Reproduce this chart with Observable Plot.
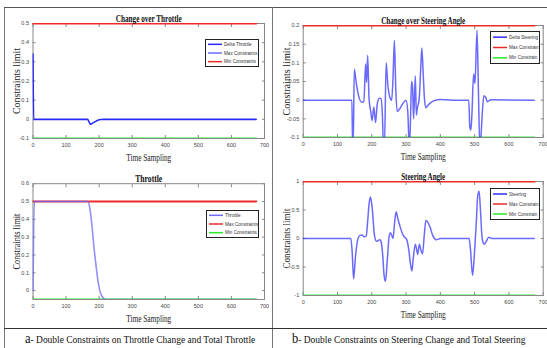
<!DOCTYPE html>
<html>
<head>
<meta charset="utf-8">
<script src="https://cdn.jsdelivr.net/npm/d3@7"></script>
<script src="https://cdn.jsdelivr.net/npm/@observablehq/plot@0.6"></script>
<style>
  html, body { margin: 0; padding: 0; background: #fff; }
  #fig { position: relative; width: 547px; height: 348px; background: #fff; overflow: hidden; }
  .hline { position: absolute; height: 0; border-top: 1.5px solid #555; }
  .vline { position: absolute; width: 0; border-left: 1.5px solid #777; }
  .caption { position: absolute; font-family: "Liberation Serif", serif; font-size: 11px; color: #111; white-space: nowrap; transform-origin: left center; }
  .caption .big { font-size: 14.5px; }
  svg g[aria-label="x-axis label"] text, svg g[aria-label="y-axis label"] text { font-family: "Liberation Serif", serif; font-size: 9.5px; fill: #222; }
  svg g[aria-label="x-axis tick label"] text, svg g[aria-label="y-axis tick label"] text { font-size: 5.5px; fill: #444; }
</style>
</head>
<body>
<div id="fig"></div>
<script>
// ---------- DATA ----------
const xTicks = [0, 100, 200, 300, 400, 500, 600, 700];
const limitT = [0, 675];

// Panel a (top): change over throttle
const dThrottleT = [0, 2, 165, 170, 174, 180, 188, 196, 204, 215, 675];
const dThrottleV = [0.34, 0, 0, -0.015, -0.026, -0.02, -0.012, -0.005, -0.001, 0, 0];
const dThrottleMax = [0.5, 0.5];
const dThrottleMin = [-0.1, -0.1];
const dThrottleTicks = [-0.1, 0, 0.1, 0.2, 0.3, 0.4, 0.5];

// Panel a (bottom): throttle
const throttleT = [0, 4, 166, 172, 178, 184, 190, 196, 202, 208, 214, 220, 675];
const throttleV = [0, 0.5, 0.5, 0.46, 0.37, 0.25, 0.15, 0.06, 0.0, -0.03, -0.045, -0.05, -0.05];
const throttleMax = [0.5, 0.5];
const throttleMin = [-0.05, -0.05];
const throttleTicks = [0, 0.1, 0.2, 0.3, 0.4, 0.5, 0.6];

// Panel b (top): change over steering angle
const dSteerT = [0, 142, 144, 146, 149, 155, 162, 170, 177, 182, 185, 188, 192, 197, 201, 206, 211, 216, 222, 227, 231, 234, 237, 242, 247, 252, 258, 262, 266, 270, 274, 280, 290, 300, 305, 308, 310, 313, 316, 319, 322, 327, 330, 333, 338, 343, 346, 350, 354, 358, 363, 370, 385, 400, 420, 440, 483, 486, 489, 492, 497, 501, 507, 511, 515, 519, 522, 527, 532, 537, 547, 674];
const dSteerV = [0, 0, -0.12, -0.12, 0.083, 0.045, 0.01, -0.005, -0.004, 0.097, 0.048, 0.12, 0.005, -0.03, -0.055, -0.018, -0.06, -0.01, 0.005, 0.004, -0.04, -0.12, -0.12, 0.1, 0.04, 0.01, 0.0, 0.06, 0.16, 0.03, -0.03, -0.025, -0.01, 0, -0.03, -0.1, -0.12, -0.05, 0.05, 0.035, -0.05, 0.065, -0.04, -0.02, 0.0, 0.09, 0.14, 0.07, 0.0, -0.02, -0.015, -0.008, 0, 0.002, 0.001, 0, 0, -0.072, -0.08, -0.04, 0.07, 0.045, 0.187, 0.03, -0.12, -0.09, -0.04, 0.012, 0.008, -0.004, 0.001, 0];
const dSteerMax = [0.2, 0.2];
const dSteerMin = [-0.1, -0.1];
const dSteerTicks = [-0.1, -0.05, 0, 0.05, 0.1, 0.15, 0.2];

// Panel b (bottom): steering angle
const steerT = [0, 139, 143, 147, 152, 158, 165, 172, 178, 184, 188, 192, 196, 201, 208, 214, 218, 223, 227, 232, 236, 240, 245, 250, 254, 258, 262, 267, 271, 276, 283, 292, 302, 308, 313, 317, 321, 327, 331, 334, 337, 339, 343, 348, 353, 358, 364, 370, 378, 388, 400, 484, 488, 494, 499, 505, 509, 513, 517, 522, 528, 534, 541, 550, 674];
const steerV = [0, 0, -0.25, -0.71, -0.35, -0.05, 0.05, 0.06, 0.03, 0.05, 0.3, 0.6, 0.73, 0.55, 0.05, -0.05, -0.04, -0.02, -0.05, -0.3, -0.65, -0.75, -0.4, 0.0, 0.1, 0.06, 0.0, 0.3, 0.47, 0.35, 0.2, 0.05, -0.02, -0.2, -0.45, -0.57, -0.35, -0.1, -0.2, -0.28, -0.15, -0.1, -0.2, -0.27, 0.05, 0.32, 0.28, 0.2, 0.05, -0.02, 0, 0, -0.2, -0.65, -0.3, 0.3, 0.75, 0.83, 0.5, 0.0, -0.1, -0.05, 0.02, 0, 0];
const steerMax = [1, 1];
const steerMin = [-1, -1];
const steerTicks = [-1, -0.5, 0, 0.5, 1];

const BLUE = "#2b2bff";
const LIGHTBLUE = "#6b6bff";
const RED = "#ee2a2a";
const GREEN = "#2ae82a";

const fig = document.getElementById("fig");

function rows(t, v) { return t.map((d, i) => ({t: d, v: v[i]})); }

function fitText(svg, selector, len) {
  svg.querySelectorAll(selector).forEach(t => {
    t.setAttribute("textLength", len);
    t.setAttribute("lengthAdjust", "spacingAndGlyphs");
  });
}

function panel({left, top, width, height, margin, yDomain, yTicks, title, series, fit}) {
  const chart = Plot.plot({
    width, height,
    marginLeft: margin[3], marginRight: margin[1], marginTop: margin[0], marginBottom: margin[2],
    style: {fontFamily: "Liberation Sans, sans-serif", fontSize: "5.5px", background: "transparent", overflow: "visible"},
    x: {domain: [0, 700]},
    y: {domain: yDomain},
    marks: [
      Plot.frame({stroke: "#888", strokeWidth: 1}),
      Plot.axisX({anchor: "bottom", ticks: xTicks, tickSize: -3, tickPadding: 8, stroke: "#888", tickFormat: d => String(d),
        label: "Time Sampling", labelAnchor: "center", labelOffset: 22, labelArrow: "none"}),
      Plot.axisX({anchor: "top", ticks: xTicks, tickSize: -3, stroke: "#888", tickFormat: () => "", label: null}),
      Plot.axisY({anchor: "left", ticks: yTicks, tickSize: -3, tickPadding: 7, stroke: "#888", tickFormat: d => String(d),
        label: "Constraints limit", labelAnchor: "center", labelOffset: 20, labelArrow: "none"}),
      Plot.axisY({anchor: "right", ticks: yTicks, tickSize: -3, stroke: "#888", tickFormat: () => "", label: null}),
      ...series.map(s => Plot.line(rows(s.t, s.v), {x: "t", y: "v", stroke: s.stroke, strokeWidth: s.w,
        strokeOpacity: s.op ?? 1, curve: s.curve ?? "linear", clip: true})),
      Plot.text([title], {frameAnchor: "top", dy: -8, fontFamily: "Liberation Serif, serif", fontWeight: "bold",
        fontSize: 9.5, fill: "#111"})
    ]
  });
  fitText(chart, 'g[aria-label="text"] text', fit[0]);
  fitText(chart, 'g[aria-label="x-axis label"] text', fit[1]);
  fitText(chart, 'g[aria-label="y-axis label"] text', fit[2]);
  chart.style.position = "absolute";
  chart.style.left = left + "px";
  chart.style.top = top + "px";
  fig.appendChild(chart);
}

function legend({left, top, width, height, entries}) {
  const svg = d3.create("svg").attr("width", width).attr("height", height)
    .style("position", "absolute").style("left", left + "px").style("top", top + "px");
  svg.append("rect").attr("x", 0.5).attr("y", 0.5).attr("width", width - 1).attr("height", height - 1)
    .attr("fill", "#fff").attr("stroke", "#222").attr("stroke-width", 1);
  const step = (height - 2) / entries.length;
  entries.forEach(([label, color], i) => {
    const y = 1 + step * (i + 0.5);
    svg.append("line").attr("x1", 3).attr("x2", 17).attr("y1", y).attr("y2", y)
      .attr("stroke", color).attr("stroke-width", 1.5);
    svg.append("text").attr("x", 19).attr("y", y).attr("dy", "0.35em")
      .attr("font-family", "Liberation Sans Narrow, Liberation Sans, sans-serif").attr("font-size", 4.6)
      .attr("fill", "#333").text(label);
  });
  fig.appendChild(svg.node());
}

function line(cls, style) { const e = document.createElement("div"); e.className = cls; Object.assign(e.style, style); fig.appendChild(e); }

// Panel a top
panel({left: 0, top: 0, width: 272, height: 170, margin: [23, 8, 32, 32.5], yDomain: [-0.1, 0.5], yTicks: dThrottleTicks,
  title: "Change over Throttle", fit: [66, 45, 66],
  series: [
    {t: limitT, v: dThrottleMax, stroke: RED, w: 2},
    {t: limitT, v: dThrottleMin, stroke: GREEN, w: 2.2},
    {t: dThrottleT, v: dThrottleV, stroke: BLUE, w: 1.6, curve: "monotone-x"}
  ]});
legend({left: 205, top: 39, width: 54, height: 28, entries: [["Delta Throttle", BLUE], ["Max Constraints", LIGHTBLUE], ["Min Constraints", RED]]});

// Panel b top
panel({left: 272, top: 0, width: 275, height: 170, margin: [25, 4.3, 33, 30.7], yDomain: [-0.1, 0.2], yTicks: dSteerTicks,
  title: "Change over Steering Angle", fit: [84, 45, 68],
  series: [
    {t: limitT, v: dSteerMax, stroke: RED, w: 2},
    {t: limitT, v: dSteerMin, stroke: GREEN, w: 2.2},
    {t: dSteerT, v: dSteerV, stroke: BLUE, w: 1.5, op: 0.7, curve: "monotone-x"}
  ]});
legend({left: 490, top: 31, width: 50, height: 33, entries: [["Delta Steering", BLUE], ["Max Constrain", RED], ["Min Constrain", GREEN]]});

// Panel a bottom
panel({left: 0, top: 165, width: 272, height: 165, margin: [18.2, 8, 31, 32.5], yDomain: [-0.05, 0.6], yTicks: throttleTicks,
  title: "Throttle", fit: [27, 45, 56],
  series: [
    {t: limitT, v: throttleMax, stroke: RED, w: 2},
    {t: limitT, v: throttleMin, stroke: GREEN, w: 2.2},
    {t: throttleT, v: throttleV, stroke: LIGHTBLUE, w: 1.6, op: 0.75, curve: "monotone-x"}
  ]});
legend({left: 206, top: 210, width: 53, height: 28, entries: [["Throttle", LIGHTBLUE], ["Max Constraints", RED], ["Min Constraints", GREEN]]});

// Panel b bottom
panel({left: 272, top: 165, width: 275, height: 165, margin: [16, 4.3, 35, 30.7], yDomain: [-1, 1], yTicks: steerTicks,
  title: "Steering Angle", fit: [44, 45, 60],
  series: [
    {t: limitT, v: steerMax, stroke: RED, w: 2},
    {t: limitT, v: steerMin, stroke: GREEN, w: 2.2},
    {t: steerT, v: steerV, stroke: BLUE, w: 1.5, op: 0.7, curve: "monotone-x"}
  ]});
legend({left: 490, top: 188, width: 50, height: 32, entries: [["Steering", BLUE], ["Max Constrain", RED], ["Min Constrain", GREEN]]});

// Figure borders
line("vline", {left: "4px", top: "7px", height: "341px"});
line("hline", {left: "4px", top: "7px", width: "543px"});
line("vline", {left: "272px", top: "7px", height: "341px"});
line("hline", {left: "4px", top: "328px", width: "543px", borderTopColor: "#333"});

// Captions
function caption(left, html, scale) {
  const c = document.createElement("div");
  c.className = "caption";
  c.innerHTML = html;
  Object.assign(c.style, {left: left + "px", top: "330px", transform: `scaleX(${scale})`});
  fig.appendChild(c);
}
caption(25, '<span class="big">a</span>- Double Constraints on Throttle Change and Total Throttle', 0.86);
caption(292, '<span class="big">b</span>- Double Constraints on Steering Change and Total Steering', 0.86);
</script>
</body>
</html>
